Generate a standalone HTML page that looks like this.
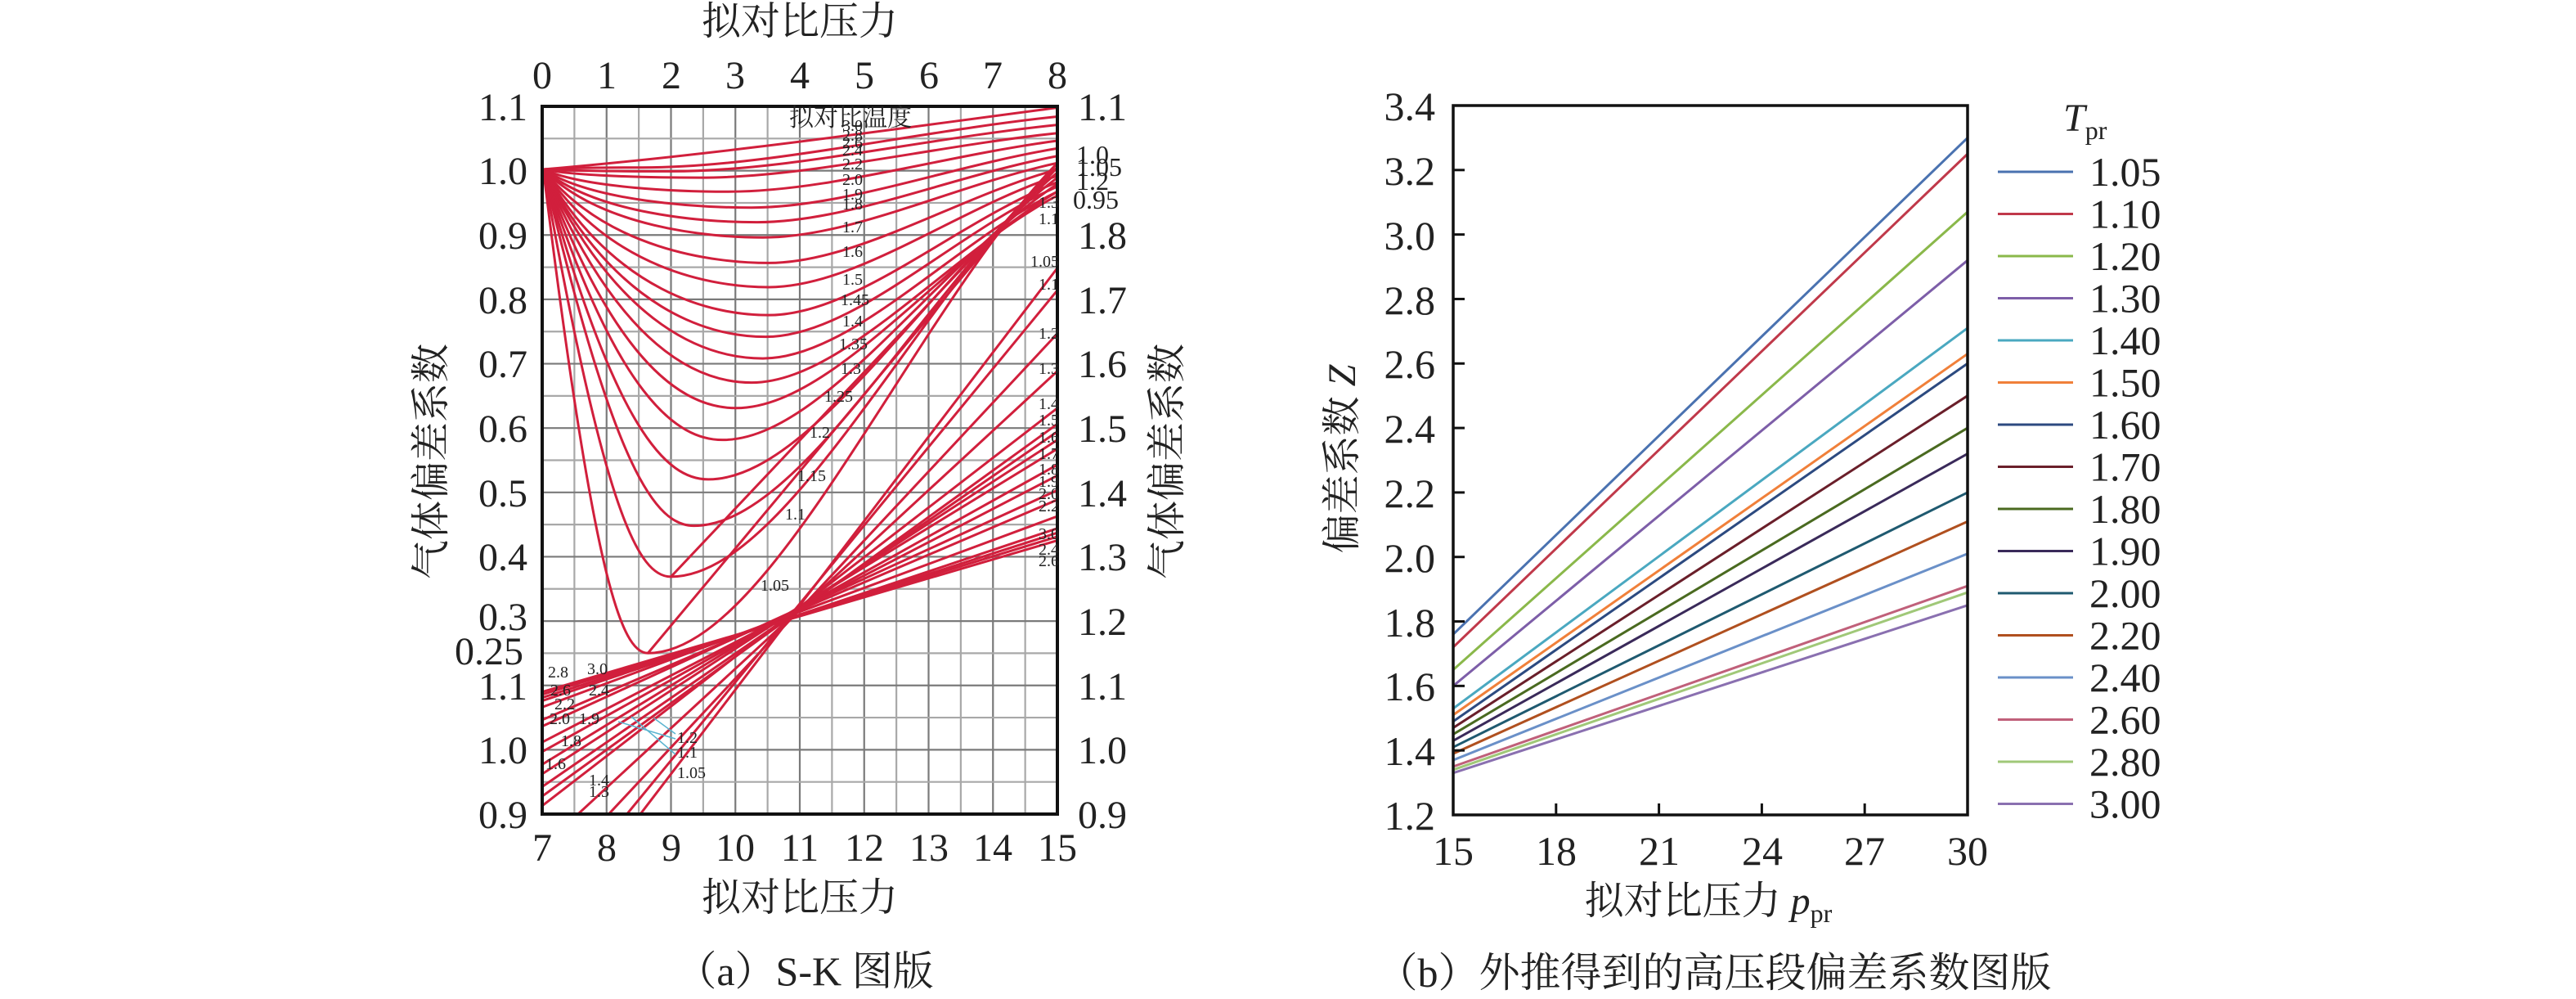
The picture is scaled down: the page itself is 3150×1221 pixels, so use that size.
<!DOCTYPE html>
<html><head><meta charset="utf-8">
<style>
html,body{margin:0;padding:0;background:#fff;}
svg{display:block;}
text{font-family:"Liberation Serif","Noto Serif CJK SC",serif;fill:#222;}
.cn{font-family:"Liberation Serif","Noto Serif CJK SC","Noto Sans CJK SC",serif;}
</style></head>
<body>
<svg id="s" width="3150" height="1221" viewBox="0 0 3150 1221" xmlns="http://www.w3.org/2000/svg">
<defs><clipPath id="cl"><rect x="663" y="130" width="630" height="865"/></clipPath></defs>
<g id="grid"></g>
<g id="left" clip-path="url(#cl)"><g id="lz" transform="translate(398.6,0.9) scale(0.70312,0.7779)"></g></g>
<rect x="663" y="130" width="630" height="865" fill="none" stroke="#111" stroke-width="4"/>
<text x="978" y="42" font-size="48" text-anchor="middle" class="cn">拟对比压力</text>
<g font-size="48" text-anchor="middle">
<text x="663" y="108">0</text><text x="742" y="108">1</text><text x="821" y="108">2</text><text x="899" y="108">3</text><text x="978" y="108">4</text><text x="1057" y="108">5</text><text x="1136" y="108">6</text><text x="1214" y="108">7</text><text x="1293" y="108">8</text>
<text x="663" y="1052">7</text><text x="742" y="1052">8</text><text x="821" y="1052">9</text><text x="899" y="1052">10</text><text x="978" y="1052">11</text><text x="1057" y="1052">12</text><text x="1136" y="1052">13</text><text x="1214" y="1052">14</text><text x="1293" y="1052">15</text>
</g>
<g font-size="48" text-anchor="end">
<text x="645" y="147">1.1</text><text x="645" y="225">1.0</text><text x="645" y="304">0.9</text><text x="645" y="383">0.8</text><text x="645" y="461">0.7</text><text x="645" y="540">0.6</text><text x="645" y="619">0.5</text><text x="645" y="697">0.4</text><text x="645" y="770">0.3</text><text x="640" y="812">0.25</text><text x="645" y="855">1.1</text><text x="645" y="933">1.0</text><text x="645" y="1012">0.9</text>
</g>
<g font-size="48">
<text x="1318" y="147">1.1</text><text x="1318" y="304">1.8</text><text x="1318" y="383">1.7</text><text x="1318" y="461">1.6</text><text x="1318" y="540">1.5</text><text x="1318" y="619">1.4</text><text x="1318" y="697">1.3</text><text x="1318" y="776">1.2</text><text x="1318" y="855">1.1</text><text x="1318" y="933">1.0</text><text x="1318" y="1012">0.9</text>
</g>
<g font-size="32">
<text x="1316" y="200">1.0</text><text x="1316" y="215">1.05</text><text x="1316" y="232">1.2</text><text x="1312" y="255">0.95</text>
</g>
<text x="978" y="1113" font-size="48" text-anchor="middle" class="cn">拟对比压力</text>
<text x="984" y="1204" font-size="50" text-anchor="middle" class="cn">（a）S-K 图版</text>
<text transform="translate(543,564) rotate(-90)" font-size="48" text-anchor="middle" class="cn">气体偏差系数</text>
<text transform="translate(1443,564) rotate(-90)" font-size="48" text-anchor="middle" class="cn">气体偏差系数</text>
<text x="1040" y="154" font-size="30" text-anchor="middle" class="cn">拟对比温度</text>
<g id="smalllab" font-size="20" fill="#444"></g>

<g id="right"></g>
<rect x="1777" y="129" width="629" height="867" fill="none" stroke="#111" stroke-width="3.5"/>
<g id="rticks" stroke="#111" stroke-width="3"></g>
<g font-size="50" text-anchor="end">
<text x="1755" y="147">3.4</text><text x="1755" y="226">3.2</text><text x="1755" y="305">3.0</text><text x="1755" y="384">2.8</text><text x="1755" y="462">2.6</text><text x="1755" y="541">2.4</text><text x="1755" y="620">2.2</text><text x="1755" y="699">2.0</text><text x="1755" y="778">1.8</text><text x="1755" y="856">1.6</text><text x="1755" y="935">1.4</text><text x="1755" y="1014">1.2</text>
</g>
<g font-size="50" text-anchor="middle">
<text x="1777" y="1057">15</text><text x="1903" y="1057">18</text><text x="2029" y="1057">21</text><text x="2155" y="1057">24</text><text x="2280" y="1057">27</text><text x="2406" y="1057">30</text>
</g>
<text x="2089" y="1117" font-size="48" text-anchor="middle" class="cn">拟对比压力 <tspan font-style="italic">p</tspan><tspan font-size="32" dy="10">pr</tspan></text>
<text x="2096" y="1206" font-size="50" text-anchor="middle" class="cn">（b）外推得到的高压段偏差系数图版</text>
<text transform="translate(1657,561) rotate(-90)" font-size="48" text-anchor="middle" class="cn">偏差系数 <tspan font-style="italic">Z</tspan></text>
<text x="2523" y="160" font-size="48" font-style="italic">T<tspan font-size="32" font-style="normal" dy="10">pr</tspan></text>
<g id="legend" font-size="50"></g>
</svg>
<script>
var NS="http://www.w3.org/2000/svg";
function el(p,t,a,txt){var e=document.createElementNS(NS,t);for(var k in a)e.setAttribute(k,a[k]);if(txt!=null)e.textContent=txt;document.getElementById(p).appendChild(e);return e;}
for(var i=1;i<16;i++){var x=663+i*630/16;el('grid','line',{x1:x,y1:130,x2:x,y2:995,stroke:i%2?'#a8a8a8':'#7a7a7a','stroke-width':2.2});}
for(var j=1;j<22;j++){var y=130+j*865/22;el('grid','line',{x1:663,y1:y,x2:1293,y2:y,stroke:j%2?'#a8a8a8':'#7a7a7a','stroke-width':2.2});}
var red='#d11f3c';
function P(d){el('lz','path',{d:d,fill:'none',stroke:red,'stroke-width':3,'vector-effect':'non-scaling-stroke'});}
var up=[[560,1025,255],[600,905,262],[640,825,270],[665,752,278],[690,690,288],[713,640,300],[740,600,306],[760,562,300],[765,528,292],[770,494,285],[770,450,275],[770,412,265],[760,372,255],[750,348,244],[740,325,232],[700,300,220],[650,278,208],[600,268,195],[550,262,182]];
up.forEach(function(c){var xm=c[0],ym=c[1],ye=c[2],x0=378,y0=265;
 var k=(ym-y0)/770; var a=Math.min(0.8,0.35+k*0.6);
 var d='M'+x0+','+y0+' C'+(x0+(xm-x0)*a*0.6)+','+(y0+(ym-y0)*0.85)+' '+(xm-(xm-x0)*0.25)+','+ym+' '+xm+','+ym+
 ' C'+(xm+(1272-xm)*0.3)+','+ym+' '+(1272-(1272-xm)*0.35)+','+(ye+(ym-ye)*0.3)+' 1272,'+ye;P(d);});
P('M378,265 C700,240 1000,200 1272,168');
var ends=[420,455,523,582,640,665,677,690,704,729,746,769,784,810,829,836,842,848];
var lefts=[1480,1440,1390,1330,1265,1250,1235,1215,1200,1180,1165,1140,1130,1110,1100,1095,1090,1086];
for(var i=0;i<ends.length;i++)P('M376,'+lefts[i]+' L1272,'+ends[i]);
P('M560,1025 L1272,255');P('M600,905 L1272,262');
var L=[['3.0',1030,160],['2.8',1030,172],['2.6',1030,181],['2.4',1030,190],['2.2',1030,207],['2.0',1030,226],['1.9',1030,244],['1.8',1030,256],['1.7',1030,284],['1.6',1030,314],['1.5',1030,348],['1.45',1028,373],['1.4',1030,399],['1.35',1026,427],['1.3',1028,457],['1.25',1008,491],['1.2',990,535],['1.15',975,588],['1.1',960,635],['1.05',930,722],
['1.3',1270,254],['1.1',1270,274],['1.05',1260,326],['1.1',1270,354],['1.2',1270,414],['1.3',1270,457],['1.4',1270,500],['1.5',1270,520],['1.6',1270,541],['1.7',1270,561],['1.8',1270,580],['1.9',1270,595],['2.0',1270,610],['2.2',1270,625],['3.0',1270,659],['2.4',1270,678],['2.6',1270,692],
['2.8',670,828],['3.0',718,824],['2.6',673,850],['2.4',720,850],['2.2',678,867],['2.0',672,885],['1.9',708,885],['1.8',686,912],['1.6',667,940],['1.4',720,960],['1.3',720,974],['1.2',828,908],['1.1',828,926],['1.05',828,951]];
L.forEach(function(t){el('smalllab','text',{x:t[1],y:t[2]},t[0]);});
[[756,882,826,903],[772,876,826,922],[800,878,826,897]].forEach(function(l){el('smalllab','line',{x1:l[0],y1:l[1],x2:l[2],y2:l[3],stroke:'#5ab4d0','stroke-width':1.5});});
function X(p){return 1777+(p-15)*629/15;} function Y(z){return 996-(z-1.2)*867/2.2;}
var S=[['1.05','#4a72b0',1.76,3.30],['1.10','#c0394a',1.72,3.25],['1.20','#8ab84a',1.65,3.07],['1.30','#7d5ea8',1.60,2.92],['1.40','#4aa8c0',1.53,2.71],['1.50','#f0803a',1.51,2.63],['1.60','#2c4a80',1.49,2.60],['1.70','#6a1f2a',1.47,2.50],['1.80','#4a6a20',1.45,2.40],['1.90','#3a2a5a',1.43,2.32],['2.00','#1f5a70',1.41,2.20],['2.20','#b0501f',1.39,2.11],['2.40','#6a90c8',1.37,2.01],['2.60','#c0607a',1.35,1.91],['2.80','#a0c878',1.34,1.89],['3.00','#8a70b0',1.33,1.85]];
S.forEach(function(s,i){el('right','line',{x1:X(15),y1:Y(s[2]),x2:X(30),y2:Y(s[3]),stroke:s[1],'stroke-width':3});
 var ly=210+i*51.5;el('legend','line',{x1:2443,y1:ly,x2:2535,y2:ly,stroke:s[1],'stroke-width':3});
 el('legend','text',{x:2555,y:ly+17},s[0]);});
for(var z=1.4;z<3.35;z+=0.2)el('rticks','line',{x1:1777,y1:Y(z),x2:1791,y2:Y(z)});
[18,21,24,27].forEach(function(p){el('rticks','line',{x1:X(p),y1:996,x2:X(p),y2:982});});
</script>
</body></html>
